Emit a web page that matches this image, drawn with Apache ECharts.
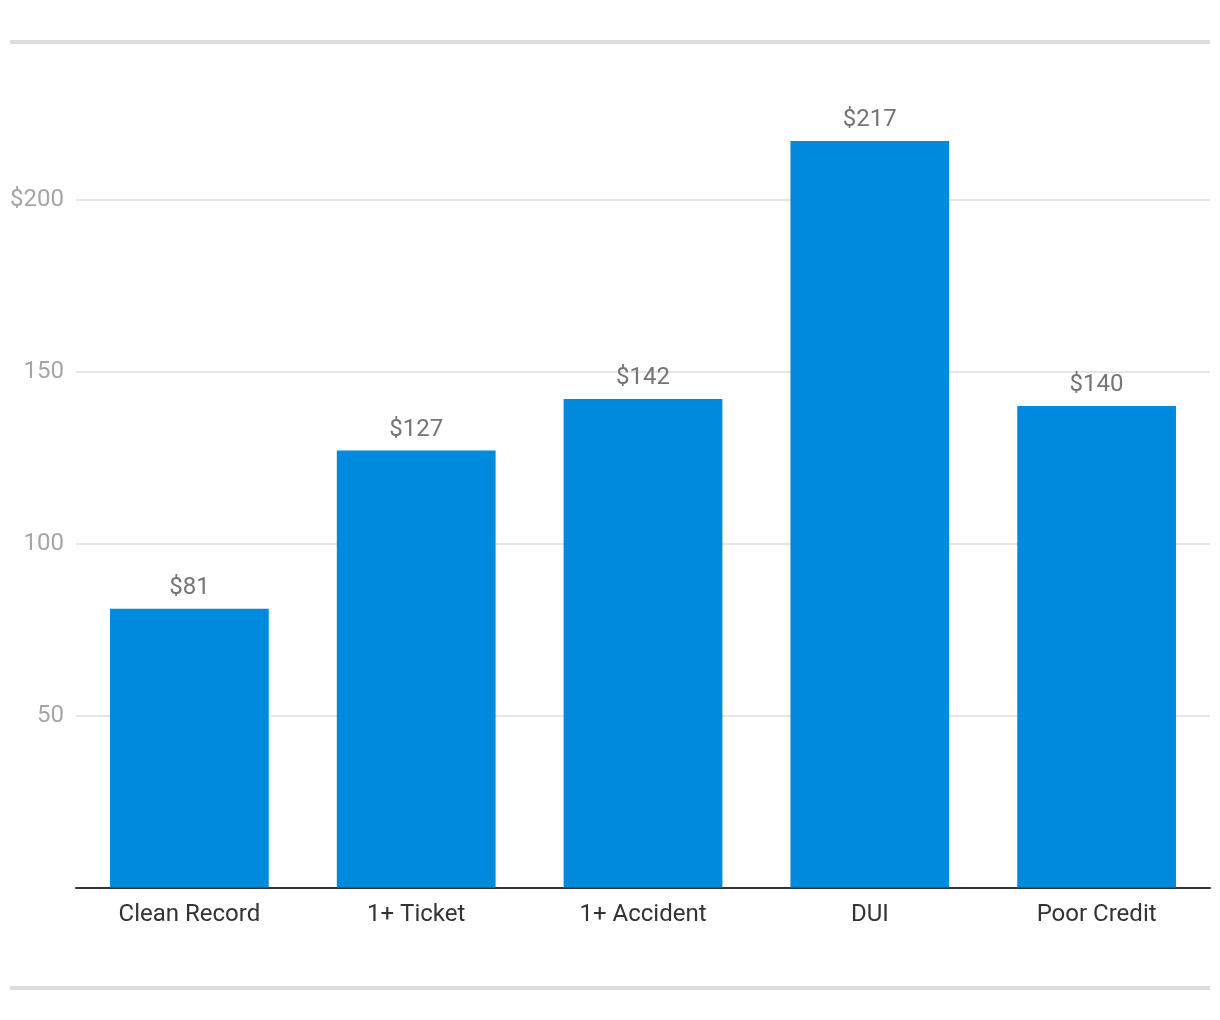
<!DOCTYPE html>
<html>
<head>
<meta charset="utf-8">
<style>html,body{margin:0;padding:0;background:#fff;}#c{width:1220px;height:1020px;}</style>
<script src="https://cdn.jsdelivr.net/npm/echarts@6/dist/echarts.min.js"></script>
</head>
<body>
<div id="c"></div>
<script>
const categories = ['Clean Record', '1+ Ticket', '1+ Accident', 'DUI', 'Poor Credit'];
const values = [81, 127, 142, 217, 140];
const yTickTop = 200;

const chart = echarts.init(document.getElementById('c'), null, {renderer: 'canvas'});
chart.setOption({
  animation: false,
  textStyle: {fontFamily: 'Roboto'},
  graphic: [
    {type: 'rect', shape: {x: 10, y: 40, width: 1200, height: 4}, style: {fill: '#dddddd'}},
    {type: 'rect', shape: {x: 10, y: 986, width: 1200, height: 4}, style: {fill: '#dddddd'}}
  ],
  grid: {left: 76, right: 10, top: 27.5, bottom: 132.5, containLabel: false},
  xAxis: {
    type: 'category',
    data: categories,
    axisLine: {lineStyle: {color: '#333333', width: 2}},
    axisTick: {show: false},
    axisLabel: {color: '#333333', fontSize: 24, margin: 15, fontFamily: 'Roboto'}
  },
  yAxis: {
    type: 'value',
    min: 0, max: 250, interval: 50,
    axisLine: {show: false},
    axisTick: {show: false},
    splitLine: {lineStyle: {color: '#e6e6e6', width: 2}, showMaxLine: false, showMinLine: false},
    axisLabel: {
      color: '#a6a6a6', fontSize: 24, margin: 12, fontFamily: 'Roboto',
      showMinLabel: false, showMaxLabel: false,
      formatter: v => v === yTickTop ? '$' + v : String(v)
    }
  },
  series: [{
    type: 'bar',
    data: values,
    barWidth: '70%',
    itemStyle: {color: '#008ade'},
    label: {
      show: true, position: 'top', distance: 9,
      color: '#757575', fontSize: 24, fontFamily: 'Roboto',
      formatter: p => '$' + p.value
    }
  }]
});
</script>
</body>
</html>
